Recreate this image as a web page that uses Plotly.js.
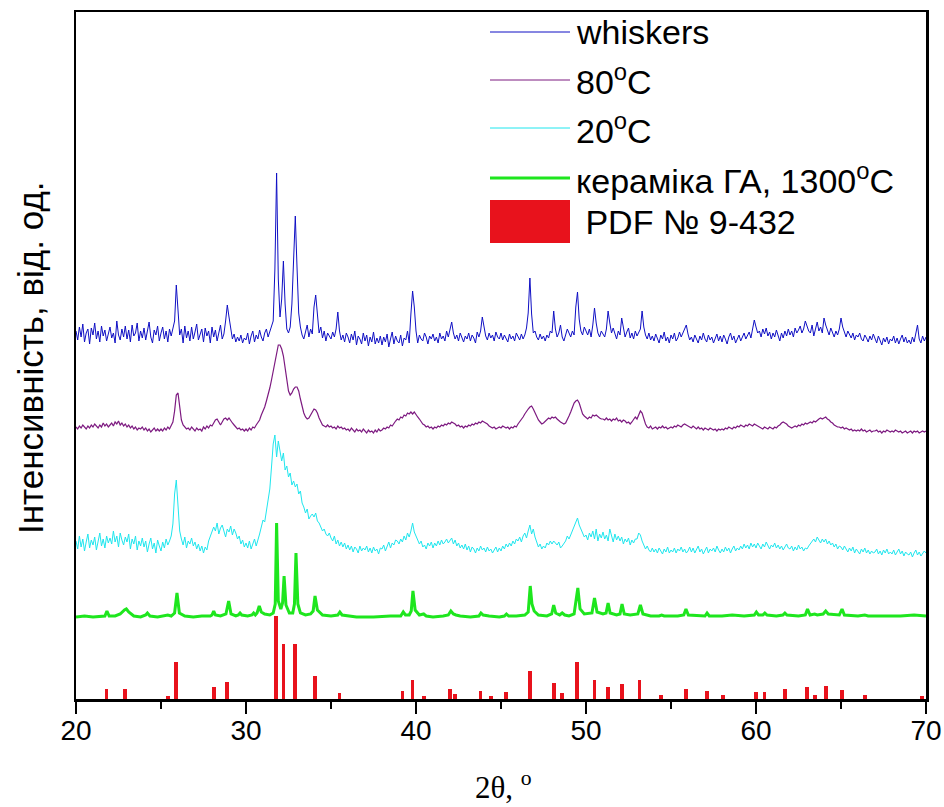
<!DOCTYPE html>
<html>
<head>
<meta charset="utf-8">
<script src="https://cdn.plot.ly/plotly-3.0.1.min.js"></script>
<style>html,body{margin:0;padding:0;background:#fff;}#chart{width:944px;height:807px;}</style>
</head>
<body>
<div id="chart"></div>
<script>
// 2θ sample grid for the measured curves (step 0.1°, 20..70)
const twoThetaStart = 20, twoThetaStep = 0.1, twoThetaCount = 501;

// whiskers (stacked intensity, arb. units)
const whiskers = [
368,359,372,362,375,357,366,370,355,371,
364,376,360,368,357,373,363,369,358,367,
372,361,366,356,378,364,359,370,362,373,
360,369,357,374,363,366,376,358,368,361,
371,359,367,377,362,356,369,364,373,358,
366,372,360,368,357,370,363,371,378,414,
390,364,370,356,373,361,368,358,372,360,
367,375,359,364,370,357,371,363,368,356,
372,362,369,358,366,374,360,365,378,394,
382,368,360,365,357,362,358,364,356,361,
359,366,355,363,368,357,364,360,369,362,
358,366,370,362,368,373,378,430,526,420,
382,400,438,395,370,366,372,395,445,483,
432,386,372,364,360,368,374,362,370,365,
392,404,380,366,372,361,368,358,366,363,
360,367,362,370,387,368,359,364,357,366,
362,356,365,359,368,354,363,360,355,366,
358,364,353,362,357,367,355,361,356,363,
354,362,357,365,352,360,367,355,363,358,
356,364,353,361,359,368,356,385,408,392,
368,356,364,360,358,366,362,355,363,360,
365,358,362,356,366,360,363,358,368,362,
370,377,366,360,364,358,366,361,357,363,
360,366,358,364,361,356,367,362,368,382,
370,363,359,366,361,364,358,367,362,360,
366,359,364,361,357,365,360,363,358,366,
362,359,365,360,364,371,386,421,385,366,
368,362,359,365,360,363,358,364,361,368,
366,388,370,362,366,374,362,358,364,370,
366,362,368,364,392,407,380,368,364,372,
368,364,370,362,374,391,376,366,362,368,
365,362,370,388,376,366,371,365,360,368,
364,381,372,362,367,371,361,366,360,368,
363,366,370,388,372,364,360,366,359,363,
358,365,361,356,364,360,367,358,362,356,
364,360,366,358,361,367,362,366,370,374,
365,359,362,357,364,360,356,363,359,366,
360,357,364,359,362,356,361,365,358,363,
357,364,360,355,362,366,359,363,356,361,
364,358,362,366,360,363,367,361,370,379,
372,366,368,362,370,365,371,363,367,360,
366,362,369,364,358,366,361,368,363,370,
364,368,362,371,366,369,373,366,370,378,
372,368,366,374,363,370,377,368,372,366,
381,374,368,364,371,366,362,368,364,370,
381,372,366,362,368,364,361,366,359,364,
362,366,360,358,364,361,357,363,359,365,
360,356,363,359,354,361,357,362,355,360,
358,363,356,361,355,360,364,357,362,356,
359,355,362,357,364,374,360,356,363,358,
362];

// 80°C
const t80 = [
272,270,273,271,274,272,270,273,271,274,
272,275,273,271,274,272,276,273,275,272,
274,276,273,277,275,278,274,276,273,275,
272,274,271,273,270,272,269,271,270,272,
269,271,268,270,267,269,271,268,270,268,
270,268,271,269,272,270,273,277,288,304,
306,290,279,274,272,270,271,269,272,270,
268,271,269,270,268,272,270,273,271,274,
273,276,279,280,277,274,277,280,281,279,
281,278,276,274,272,270,271,269,270,268,
270,268,271,269,272,271,274,276,279,284,
288,292,298,304,311,319,328,338,348,354,
354,350,343,332,318,308,304,306,310,312,
312,308,300,292,286,282,280,281,284,288,
290,289,286,281,277,274,273,272,274,272,
273,271,272,270,273,271,272,270,271,269,
270,268,271,269,267,270,268,269,267,270,
268,266,269,267,268,266,269,267,270,268,
269,271,270,272,271,274,273,276,278,280,
279,282,281,284,283,286,285,287,285,287,
284,282,280,277,275,274,272,273,271,272,
270,272,271,273,272,274,273,275,274,276,
275,277,276,275,273,274,272,273,271,273,
272,274,273,275,274,276,275,277,276,278,
277,276,275,273,272,271,272,270,271,272,
271,273,272,271,272,270,272,271,273,272,
275,277,280,282,285,288,290,292,293,290,
286,283,279,277,275,276,278,279,281,280,
282,281,282,280,278,277,276,275,276,279,
283,287,291,296,298,299,296,290,285,283,
281,280,282,281,284,283,284,282,281,280,
280,279,281,279,280,278,280,279,281,278,
279,277,279,278,276,277,275,277,279,282,
280,284,288,286,280,275,272,271,273,270,
271,272,270,272,271,273,271,272,270,271,
272,271,273,272,274,273,272,274,275,274,
273,272,271,273,271,270,272,270,271,269,
271,270,269,271,270,269,270,268,270,269,
270,269,271,270,272,271,270,272,271,273,
272,274,273,272,274,273,275,274,273,275,
274,273,272,271,270,272,271,270,272,271,
270,272,271,273,274,276,277,276,275,273,
272,271,272,273,272,274,273,275,274,276,
275,276,277,276,278,277,279,280,281,280,
281,282,280,279,277,276,274,273,272,272,
271,272,270,271,270,269,270,268,269,268,
269,268,270,268,269,267,268,269,267,268,
268,269,267,268,266,268,267,269,268,267,
268,267,269,268,267,268,266,267,268,266,
267,268,266,268,267,268,266,267,268,267,
268];

// 20°C
const t20 = [
158,150,163,152,160,148,157,165,151,159,
154,162,149,158,166,153,160,151,163,156,
161,155,168,157,163,152,166,159,154,162,
157,165,150,160,155,163,149,158,153,161,
152,158,147,155,161,150,156,146,159,153,
148,157,151,160,154,158,163,175,205,219,
192,168,160,154,162,151,158,155,161,153,
157,150,155,148,153,146,152,149,158,163,
166,172,168,176,165,171,174,168,162,170,
167,173,164,170,166,160,163,155,159,152,
156,151,158,150,155,160,153,158,165,172,
179,177,188,195,210,232,255,264,242,258,
248,238,246,229,233,222,226,214,218,212,
215,205,208,196,192,186,190,180,183,185,
182,186,178,176,172,168,170,165,163,166,
161,158,163,155,159,153,157,152,156,150,
154,149,153,147,152,150,146,153,148,151,
149,153,147,151,146,152,148,150,145,151,
150,154,148,153,157,151,156,154,159,158,
155,160,157,163,159,166,162,168,176,167,
163,160,155,158,152,154,150,156,153,157,
151,156,153,158,154,159,155,157,160,156,
158,161,155,159,153,156,151,154,150,155,
149,153,147,152,150,146,151,148,153,149,
151,147,152,148,150,146,149,152,147,151,
148,153,150,155,152,156,153,158,155,160,
158,162,157,163,166,161,168,174,165,170,
162,156,152,155,150,153,151,156,154,158,
155,158,156,154,157,151,153,155,158,163,
160,164,168,172,176,181,174,170,166,162,
164,159,166,162,168,160,170,158,165,161,
167,160,164,158,170,162,157,165,159,163,
158,162,155,160,157,161,154,159,156,160,
160,166,164,158,154,150,153,149,147,151,
147,150,146,151,148,145,150,147,152,146,
149,147,151,146,150,148,152,147,150,146,
148,152,147,151,146,149,153,147,150,145,
149,152,146,150,148,151,147,153,149,146,
150,147,152,148,151,146,150,153,148,151,
149,153,150,155,151,154,150,156,152,155,
151,156,153,150,155,152,157,153,150,154,
152,156,151,154,150,153,149,152,155,151,
150,153,148,152,149,154,150,152,148,151,
150,153,155,158,160,157,162,159,156,160,
157,160,155,158,154,156,152,155,150,153,
152,149,153,150,147,151,148,152,146,150,
148,145,150,147,151,146,149,145,148,146,
147,150,145,148,144,149,146,150,145,147,
145,149,144,147,150,145,148,143,147,145,
144,147,142,146,149,144,147,143,146,148,
146];

// кераміка ГА, 1300°C
const ceramicX = [20.0,20.5,21.0,21.5,21.7,21.82,21.95,22.3,22.6,22.85,22.96,23.1,23.4,23.8,24.1,24.2,24.35,24.8,25.2,25.4,25.6,25.8,25.94,26.08,26.4,26.9,27.4,27.9,28.0,28.1,28.2,28.5,28.82,28.98,29.12,29.4,29.55,29.65,29.75,30.1,30.35,30.45,30.55,30.65,30.78,30.9,31.1,31.4,31.6,31.72,31.8,31.9,32.05,32.15,32.24,32.35,32.55,32.75,32.85,32.94,33.05,33.2,33.5,33.8,33.95,34.06,34.2,34.5,35.0,35.4,35.52,35.65,36.5,37.5,38.5,39.1,39.25,39.38,39.6,39.72,39.82,39.95,40.2,40.45,40.6,41.0,41.6,41.9,42.05,42.2,42.35,42.6,43.2,43.7,43.82,43.95,44.3,44.9,45.2,45.32,45.45,45.9,46.4,46.6,46.72,46.82,46.95,47.2,47.7,47.98,48.1,48.22,48.45,48.6,48.75,49.0,49.3,49.43,49.52,49.65,49.9,50.35,50.5,50.65,51.0,51.18,51.3,51.42,51.8,52.0,52.12,52.25,52.6,53.05,53.2,53.35,53.8,54.3,54.45,54.6,55.4,55.75,55.88,56.02,56.6,57.0,57.12,57.25,58.0,58.6,59.3,59.9,60.02,60.15,60.4,60.52,60.65,61.2,61.58,61.7,61.82,62.5,62.9,63.03,63.18,63.45,63.6,63.95,64.1,64.25,64.9,65.06,65.2,66.0,66.4,66.6,67.5,68.5,69.3,69.8,70.0];
const ceramicY = [82,83,82,83,83,88,83,83,85,89,90,87,83,82,84,86,83,82,83,84,83,86,106,86,83,82,83,83,84,88,84,83,85,98,85,83,84,86,84,83,84,86,84,86,93,87,85,84,86,95,176,98,90,96,123,94,86,86,95,146,95,86,84,85,88,103,89,84,83,84,87,84,82,82,83,83,87,84,84,88,108,89,84,85,83,82,83,84,88,85,84,83,82,83,86,84,83,82,83,85,83,83,84,87,113,95,88,84,83,85,94,86,84,86,84,83,85,100,111,90,85,86,101,87,85,86,96,86,84,85,95,85,84,85,94,85,83,83,84,83,83,84,90,84,83,83,86,83,83,84,83,84,87,84,84,86,84,83,84,86,84,83,84,90,84,85,84,85,88,85,84,90,84,83,84,83,83,83,84,83,83];

// PDF № 9-432 reference lines
const pdfX = [21.8,22.9,25.4,25.9,28.1,28.9,31.77,32.2,32.9,34.05,35.5,39.2,39.8,40.45,42.0,42.3,43.8,44.4,45.3,46.7,48.1,48.6,49.45,50.5,51.3,52.1,53.15,54.4,55.9,57.1,58.05,60.0,60.5,61.7,63.0,63.45,64.1,65.05,66.4,69.75];
const pdfI = [10,10,3,37,12,17,83,55,55,23,6,8,19,3,10,5,8,3,7,28,16,6,37,19,12,15,19,4,10,8,4,7,7,10,12,4,13,9,4,3];

const seriesNames = ['whiskers','80<sup>o</sup>C','20<sup>o</sup>C','кераміка ГА, 1300<sup>o</sup>C',' PDF № 9-432'];
const xTicks = [20,30,40,50,60,70];

// ---- build ----
const grid = Array.from({length: twoThetaCount}, (_, i) => +(twoThetaStart + i*twoThetaStep).toFixed(1));
const colors = ['#0f0fc4','#7d1a80','#1fe6ee','#1ee61e','#e8121c'];

const traces = [
  {x: grid, y: whiskers, type:'scatter', mode:'lines', line:{color:colors[0], width:1}, name:seriesNames[0]},
  {x: grid, y: t80, type:'scatter', mode:'lines', line:{color:colors[1], width:1.2}, name:seriesNames[1]},
  {x: grid, y: t20, type:'scatter', mode:'lines', line:{color:colors[2], width:1}, name:seriesNames[2]},
  {x: ceramicX, y: ceramicY, type:'scatter', mode:'lines', line:{color:colors[3], width:3}, name:seriesNames[3]},
  {x: pdfX, y: pdfI, type:'bar', width:0.22, base:0, marker:{color:colors[4], line:{width:0}}, name:seriesNames[4]}
];

// plot box in pixels
const L = 76, R = 926, T = 12, B = 699;
const px = v => (v - L) / (R - L);
const py = v => (B - v) / (B - T);

const legendFont = {family:'Liberation Sans, Arial, sans-serif', size:34, color:'#000'};
const legendRows = [32, 80, 128, 178];
const shapes = [];
const annotations = [];
legendRows.forEach((yy, i) => {
  shapes.push({type:'line', xref:'paper', yref:'paper', x0:px(490), x1:px(570), y0:py(yy), y1:py(yy),
    line:{color:colors[i], width: i===3 ? 3 : 1}});
  annotations.push({xref:'paper', yref:'paper', x:px(574), y:py(yy), xanchor:'left', yanchor:'middle',
    text:seriesNames[i], showarrow:false, font:legendFont});
});
shapes.push({type:'rect', xref:'paper', yref:'paper', x0:px(490), x1:px(570), y0:py(243), y1:py(200),
  fillcolor:colors[4], line:{width:0}});
annotations.push({xref:'paper', yref:'paper', x:px(574), y:py(222), xanchor:'left', yanchor:'middle',
  text:seriesNames[4], showarrow:false, font:legendFont});

annotations.push({xref:'paper', yref:'paper', x:px(30), y:py(358), textangle:-90, xanchor:'center', yanchor:'middle',
  text:'Інтенсивність, від. од.', showarrow:false, font:{family:'Liberation Sans, Arial, sans-serif', size:35, color:'#000'}});
annotations.push({xref:'paper', yref:'paper', x:px(503), y:py(785), xanchor:'center', yanchor:'middle',
  text:'2θ, <sup>o</sup>', showarrow:false, font:{family:'Liberation Serif, Times New Roman, serif', size:31, color:'#000'}});

const layout = {
  width:944, height:807,
  margin:{l:L, r:944-R, t:T, b:807-B, pad:0},
  paper_bgcolor:'#fff', plot_bgcolor:'#fff',
  showlegend:false,
  bargap:0,
  xaxis:{range:[20,70], tickvals:xTicks, ticktext:xTicks.map(String), ticks:'outside', ticklen:12, tickwidth:2, tickcolor:'#000',
    ticklabelstandoff:-7,
    showline:true, linecolor:'#000', linewidth:2.5, mirror:true, showgrid:false, zeroline:false,
    tickfont:{family:'Liberation Sans, Arial, sans-serif', size:28, color:'#000'},
    minor:{dtick:5, tick0:20, ticks:'outside', ticklen:7, tickwidth:2, tickcolor:'#000', showgrid:false}},
  yaxis:{range:[0, B-T], showticklabels:false, ticks:'', showline:true, linecolor:'#000', linewidth:2.5, mirror:true,
    showgrid:false, zeroline:false},
  shapes: shapes,
  annotations: annotations
};

Plotly.newPlot('chart', traces, layout, {displayModeBar:false, staticPlot:true});
</script>
</body>
</html>
